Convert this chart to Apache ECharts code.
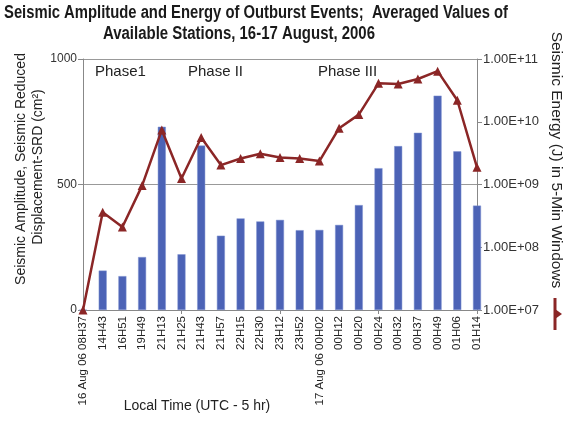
<!DOCTYPE html>
<html>
<head>
<meta charset="utf-8">
<script src="https://cdn.jsdelivr.net/npm/echarts@6/dist/echarts.min.js"></script>
<style>
html,body{margin:0;padding:0;background:#fff;}
#chart{width:567px;height:427px;}
</style>
</head>
<body>
<div id="chart"></div>
<script>
var categories = ['16 Aug 06 08H37','14H43','16H51','19H49','21H13','21H25','21H43','21H57','22H15','22H30','23H12','23H52','17 Aug 06 00H02','00H12','00H20','00H24','00H32','00H37','00H49','01H06','01H14'];
var amplitude = [0,157,135,211,730,222,655,296,365,353,359,318,319,339,418,565,653,706,854,632,416];
var energy = [1.0e7,3.6e8,2.1e8,9.6e8,7.4e9,1.25e9,5.6e9,2.04e9,2.6e9,3.1e9,2.7e9,2.6e9,2.36e9,7.9e9,1.3e10,4.1e10,4.0e10,4.8e10,6.4e10,2.2e10,1.88e9];
var leftTicks = [0,500,1000];
var phaseLabels = ['Phase1','Phase II','Phase III'];
var titleLines = ['Seismic Amplitude and Energy of Outburst Events;  Averaged Values of', 'Available Stations, 16-17 August, 2006'];

var FONT = '"Liberation Sans", Arial, sans-serif';
var TITLE_FONT = 'bold 18px "Liberation Sans", Arial, sans-serif';
var mctx = document.createElement('canvas').getContext('2d');
mctx.font = TITLE_FONT;
function fitScale(text, target){ return target / mctx.measureText(text).width; }

function sciLabel(v){
  var e = Math.round(Math.log10(v));
  var m = v / Math.pow(10, e);
  var es = (e < 0 ? '-' : '+') + (Math.abs(e) < 10 ? '0' : '') + Math.abs(e);
  return m.toFixed(2) + 'E' + es;
}

var chart = echarts.init(document.getElementById('chart'), null, {renderer:'canvas'});
var maroon = '#8b2626';
var option = {
  animation: false,
  backgroundColor: '#ffffff',
  grid: {left: 83, right: 90, top: 59, bottom: 117, containLabel: false},
  xAxis: {
    type: 'category', data: categories, boundaryGap: false,
    axisLine: {lineStyle: {color: '#888', width: 1}},
    axisTick: {interval: 4, length: 4, lineStyle: {color: '#888'}},
    axisLabel: {interval: 0, rotate: 90, fontSize: 11.5, fontFamily: FONT, color: '#222', margin: 6}
  },
  yAxis: [
    {type: 'value', min: leftTicks[0], max: leftTicks[2], interval: 500,
     axisLine: {show: true, lineStyle: {color: '#888'}},
     axisTick: {show: true, length: 5, lineStyle: {color: '#888'}},
     axisLabel: {fontSize: 12, fontFamily: FONT, color: '#333', margin: 6,
       formatter: function(v){ return String(v); }},
     splitLine: {show: true, lineStyle: {color: '#999', width: 1}}},
    {type: 'log', logBase: 10, min: 1e7, max: 1e11,
     axisLine: {show: true, lineStyle: {color: '#888'}},
     axisTick: {show: true, length: 5, lineStyle: {color: '#888'}},
     axisLabel: {fontSize: 13, fontFamily: FONT, color: '#333', margin: 6, formatter: sciLabel},
     splitLine: {show: false}}
  ],
  series: [
    {type: 'bar', name: 'Seismic Amplitude', data: amplitude, yAxisIndex: 0, barWidth: 8,
     itemStyle: {color: '#4c63b6', borderColor: '#7f93d0', borderWidth: 0.5}},
    {type: 'line', name: 'Seismic Energy', data: energy, yAxisIndex: 1,
     symbol: 'triangle', symbolSize: 9, showSymbol: true,
     lineStyle: {color: maroon, width: 2.5},
     itemStyle: {color: maroon}}
  ],
  graphic: [
    {type: 'text', x: 4, y: 13, scaleX: fitScale(titleLines[0], 504),
     style: {text: titleLines[0], font: TITLE_FONT, fill: '#1a1a1a', textAlign: 'left', textVerticalAlign: 'middle'}},
    {type: 'text', x: 103, y: 34, scaleX: fitScale(titleLines[1], 272),
     style: {text: titleLines[1], font: TITLE_FONT, fill: '#1a1a1a', textAlign: 'left', textVerticalAlign: 'middle'}},
    {type: 'text', x: 95, y: 72, style: {text: phaseLabels[0], font: '15px ' + FONT, fill: '#222', textVerticalAlign: 'middle'}},
    {type: 'text', x: 188, y: 72, style: {text: phaseLabels[1], font: '15px ' + FONT, fill: '#222', textVerticalAlign: 'middle'}},
    {type: 'text', x: 318, y: 72, style: {text: phaseLabels[2], font: '15px ' + FONT, fill: '#222', textVerticalAlign: 'middle'}},
    {type: 'text', x: 21, y: 169, rotation: Math.PI/2,
     style: {text: 'Seismic Amplitude, Seismic Reduced', font: '14px ' + FONT, fill: '#222', textAlign: 'center', textVerticalAlign: 'middle'}},
    {type: 'text', x: 38, y: 167, rotation: Math.PI/2,
     style: {text: 'Displacement-SRD (cm²)', font: '14px ' + FONT, fill: '#222', textAlign: 'center', textVerticalAlign: 'middle'}},
    {type: 'text', x: 556, y: 160, rotation: -Math.PI/2,
     style: {text: 'Seismic Energy (J) in 5-Min Windows', font: '15.5px ' + FONT, fill: '#222', textAlign: 'center', textVerticalAlign: 'middle'}},
    {type: 'text', x: 197, y: 406,
     style: {text: 'Local Time (UTC - 5 hr)', font: '14px ' + FONT, fill: '#222', textAlign: 'center', textVerticalAlign: 'middle'}},
    {type: 'line', shape: {x1: 555, y1: 298, x2: 555, y2: 330}, style: {stroke: maroon, lineWidth: 3}},
    {type: 'polygon', shape: {points: [[555, 309], [562, 314], [555, 319]]}, style: {fill: maroon}}
  ]
};
chart.setOption(option);
</script>
</body>
</html>
